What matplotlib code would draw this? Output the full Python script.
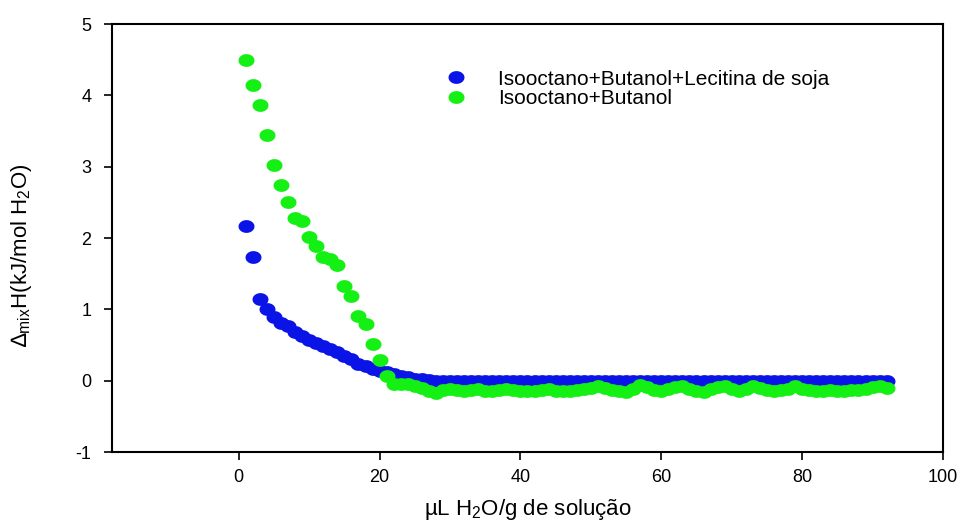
import matplotlib
matplotlib.use("Agg")
import matplotlib.pyplot as plt
import numpy as np
from matplotlib.path import Path

plt.rcParams['font.family'] = ['Liberation Sans', 'DejaVu Sans']
plt.rcParams['mathtext.fontset'] = 'custom'
plt.rcParams['mathtext.rm'] = 'Liberation Sans'
plt.rcParams['mathtext.it'] = 'Liberation Sans'
plt.rcParams['axes.unicode_minus'] = False

# ---- data ----
x_blue = list(range(1, 93))
y_blue = [2.17, 1.74, 1.15, 1.01, 0.90, 0.81, 0.76, 0.68, 0.62, 0.57,
          0.53, 0.49, 0.45, 0.40, 0.35, 0.30, 0.24, 0.20, 0.16, 0.14,
          0.12, 0.10, 0.07, 0.05, 0.03, 0.02, 0.01, 0.00, 0.00, -0.01,
          0.00, 0.00, -0.01, 0.00, 0.00, 0.00, -0.01, 0.00, 0.00, 0.00,
          -0.01, 0.00, 0.00, 0.00, 0.00, -0.01, 0.00, 0.00, 0.00, 0.00,
          -0.01, 0.00, 0.00, 0.00, 0.00, 0.00, -0.01, 0.00, 0.00, 0.00,
          0.00, -0.01, 0.00, 0.00, 0.00, 0.00, 0.00, -0.01, 0.00, 0.00,
          0.00, 0.00, -0.01, 0.00, 0.00, 0.00, 0.00, 0.00, -0.01, 0.00,
          0.00, 0.00, 0.00, -0.01, 0.00, 0.00, 0.00, 0.00, 0.00, -0.01,
          0.00, 0.00]

x_green = list(range(1, 93))
y_green = [4.50, 4.14, 3.87, 3.45, 3.03, 2.74, 2.50, 2.28, 2.24, 2.01,
           1.89, 1.74, 1.71, 1.62, 1.33, 1.19, 0.91, 0.80, 0.51, 0.29,
           0.06, -0.04, -0.05, -0.05, -0.07, -0.10, -0.15, -0.17, -0.13, -0.12,
           -0.13, -0.14, -0.13, -0.12, -0.14, -0.15, -0.13, -0.12, -0.13, -0.14,
           -0.15, -0.14, -0.13, -0.12, -0.14, -0.15, -0.14, -0.13, -0.12, -0.10,
           -0.08, -0.10, -0.13, -0.14, -0.16, -0.11, -0.06, -0.09, -0.13, -0.15,
           -0.12, -0.09, -0.07, -0.11, -0.14, -0.16, -0.12, -0.09, -0.07, -0.11,
           -0.14, -0.12, -0.08, -0.10, -0.13, -0.14, -0.13, -0.11, -0.08, -0.11,
           -0.13, -0.14, -0.14, -0.13, -0.14, -0.14, -0.13, -0.13, -0.11, -0.09,
           -0.08, -0.10]

label_blue = "Isooctano+Butanol+Lecitina de soja"
label_green = "Isooctano+Butanol"
x_ticks = [0, 20, 40, 60, 80, 100]
y_ticks = [-1, 0, 1, 2, 3, 4, 5]

# elliptical marker (wider than tall)
t = np.linspace(0, 2 * np.pi, 60)
ell = Path(np.column_stack([np.cos(t), 0.8 * np.sin(t)]), closed=True)

fig = plt.figure(figsize=(9.63, 5.24), dpi=100)
ax = fig.add_axes([0.1163, 0.1374, 0.9792 - 0.1163, 0.954 - 0.1374])

ax.plot(x_blue, y_blue, linestyle='none', marker=ell, markersize=11.5,
        color='#0a14e6', markeredgewidth=0, label=label_blue)
ax.plot(x_green, y_green, linestyle='none', marker=ell, markersize=11.5,
        color='#14f014', markeredgewidth=0, label=label_green)

ax.set_xlim(-18, 100)
ax.set_ylim(-1, 5)
ax.set_xticks(x_ticks)
ax.set_yticks(y_ticks)
ax.tick_params(direction='out', length=6, width=1.2, labelsize=13, colors='black')
ax.tick_params(axis='x', pad=6)
ax.tick_params(axis='y', pad=9)
for s in ax.spines.values():
    s.set_linewidth(1.5)

ax.set_xlabel("µL H$_2$O/g de solução", fontsize=16, labelpad=8)
ax.set_ylabel("∆$_{\\mathrm{mix}}$H(kJ/mol H$_2$O)", fontsize=16)
ax.yaxis.set_label_coords(-0.094, 0.46)

ax.legend(loc='upper left', bbox_to_anchor=(0.384, 0.913), frameon=False,
          fontsize=15, handletextpad=1.2, labelspacing=0.02, markerscale=1.0,
          borderaxespad=0, handlelength=1.6)

fig.savefig("out.png", dpi=100)
